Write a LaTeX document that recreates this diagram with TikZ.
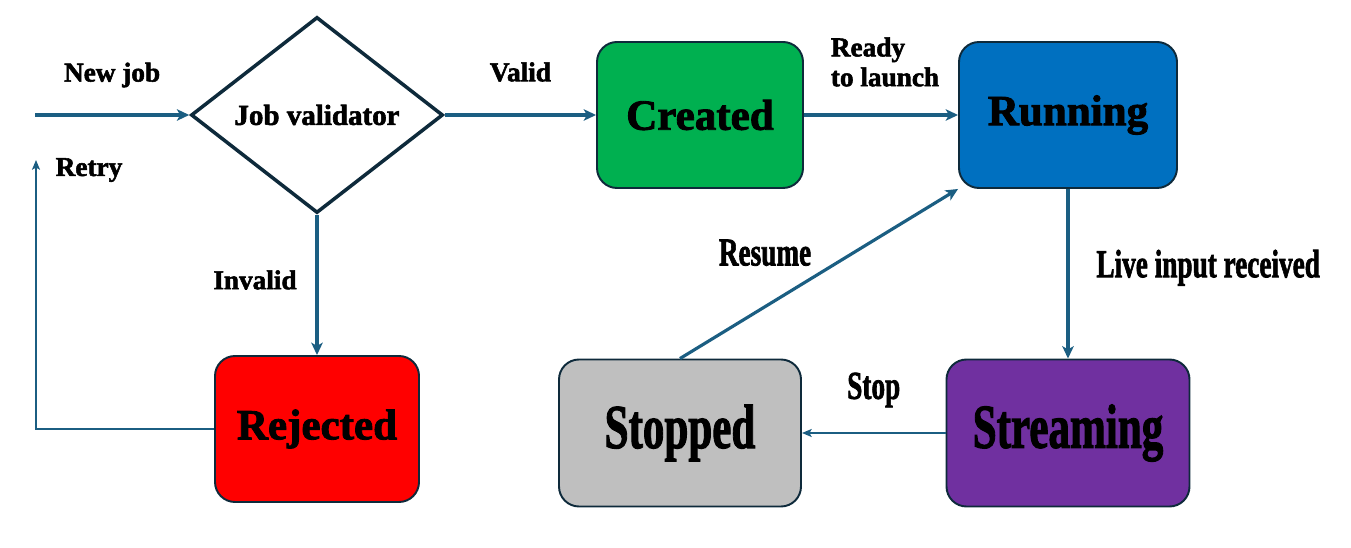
\documentclass[tikz,border=0pt]{standalone}
\usepackage{fontspec}
\setmainfont{Liberation Serif}[BoldFeatures={FakeBold=2}]
\usetikzlibrary{positioning,shapes.geometric,arrows.meta}

\definecolor{flowblue}{HTML}{1B5E82}
\definecolor{edgenavy}{HTML}{0E2A3B}
\definecolor{createdgreen}{HTML}{00B050}
\definecolor{runningblue}{HTML}{0070C0}
\definecolor{rejectedred}{HTML}{FF0000}
\definecolor{stoppedgray}{HTML}{BFBFBF}
\definecolor{streampurple}{HTML}{7030A0}

\newcommand{\tall}[1]{\scalebox{1}[1.45]{#1}}

\begin{document}
\begin{tikzpicture}[>={Stealth[length=7pt,width=6.5pt,inset=1.8pt]},node distance=7.36cm,on grid,
    state/.style={rectangle,rounded corners=0.4cm,draw=edgenavy,line width=1.1pt,
      minimum width=4.12cm,minimum height=2.92cm,font=\fontsize{24.5}{28}\selectfont\bfseries},
    check/.style={diamond,aspect=1.29,draw=edgenavy,line width=2pt,fill=white,
      minimum width=5.04cm,minimum height=3.92cm,inner sep=0pt,font=\fontsize{16.5}{19}\selectfont\bfseries},
    lbl/.style={font=\fontsize{15.5}{17}\selectfont\bfseries,align=left,black},
    flow/.style={->,draw=flowblue,line width=1.8pt},
    thinflow/.style={-{Stealth[length=5.5pt,width=4.5pt,inset=1.2pt]},draw=flowblue,line width=1pt}]
  \useasboundingbox (0,0) rectangle (27.02,10.94);
  \node[check] (validator) at (6.34,8.64) {Job validator};
  \node[state,fill=createdgreen] (created) at (14.0,8.64) {Created};
  \node[state,fill=runningblue,minimum width=4.36cm] (running) [right=7.36cm of created] {Running};
  \node[state,fill=streampurple,minimum width=4.86cm,minimum height=2.94cm] (streaming) [below=6.36cm of running] {\tall{Streaming}};
  \node[state,fill=stoppedgray,minimum width=4.84cm,minimum height=2.94cm] (stopped) [left=7.76cm of streaming] {\tall{Stopped}};
  \node[state,fill=rejectedred,minimum width=4.08cm] (rejected) at (6.34,2.36) {Rejected};
  \coordinate (newjob) at (0.7,8.64);
  \coordinate (retry) at (0.72,7.74);

  \draw[flow] (newjob) -- node[lbl,yshift=0.8cm] {New job} (validator);
  \draw[flow] (validator) -- node[lbl,yshift=0.86cm] {Valid} (created);
  \draw[flow] (created) -- node[lbl,xshift=0.08cm,yshift=1.06cm] {Ready\\to launch} (running);
  \draw[flow] (validator) -- node[lbl,xshift=-1.24cm,yshift=0.1cm] {Invalid} (rejected);
  \draw[flow] (running) -- node[lbl,anchor=west,xshift=0.42cm,yshift=0.12cm] {\tall{Live input received}} (streaming);
  \draw[thinflow] (streaming) -- node[lbl,yshift=0.86cm] {\tall{Stop}} (stopped);
  \draw[flow] (stopped.north) -- node[lbl,xshift=-1.08cm,yshift=0.42cm] {\tall{Resume}} (running.south west);
  \draw[thinflow] (rejected.west) -| node[lbl,pos=1,xshift=1.06cm,yshift=-0.2cm] {Retry} (retry);
\end{tikzpicture}
\end{document}
